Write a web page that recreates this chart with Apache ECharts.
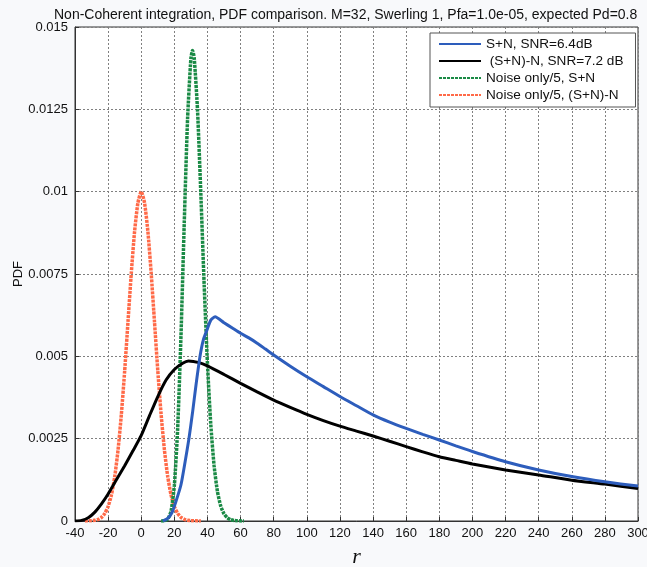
<!DOCTYPE html>
<html>
<head>
<meta charset="utf-8">
<script src="https://cdn.jsdelivr.net/npm/echarts@6/dist/echarts.min.js"></script>
<style>
html,body{margin:0;padding:0;background:#f8f9fb;}
#c{width:647px;height:567px;}
</style>
</head>
<body>
<div id="c"></div>
<script>
const titleText = 'Non-Coherent integration, PDF comparison. M=32, Swerling 1, Pfa=1.0e-05, expected Pd=0.8';
const seriesNames = ['S+N, SNR=6.4dB', ' (S+N)-N, SNR=7.2 dB', 'Noise only/5, S+N', 'Noise only/5, (S+N)-N'];
const xTicks = [-40, 300, 20];
const yTicks = [0, 0.015, 0.0025];

const blueX = [13, 16, 18.5, 21, 24, 26.5, 28.8, 31, 33, 35.5, 37.5, 39.7, 42, 44.6, 50, 55, 60, 65, 70, 75, 80, 90, 100, 110, 120, 130, 140, 150, 160, 170, 180, 190, 200, 220, 240, 260, 280, 300];
const blueY = [0, 0.00008, 0.00025, 0.0006, 0.0011, 0.0018, 0.0025, 0.0033, 0.0041, 0.005, 0.0055, 0.0058, 0.0061, 0.0062, 0.00602, 0.00586, 0.0057, 0.00556, 0.0054, 0.00522, 0.00504, 0.0047, 0.00438, 0.00408, 0.00378, 0.0035, 0.00322, 0.003, 0.00281, 0.00263, 0.00246, 0.00228, 0.00211, 0.0018, 0.00155, 0.00135, 0.00119, 0.00106];

const blackX = [-40, -36, -32, -28, -24, -20, -15, -10, -5, 0, 5, 10, 15, 20, 25, 28.5, 35, 40, 50, 60, 70, 80, 90, 100, 110, 120, 130, 140, 150, 160, 170, 180, 190, 200, 220, 240, 260, 280, 300];
const blackY = [0, 0.00002, 0.0001, 0.00027, 0.00052, 0.00082, 0.00125, 0.00168, 0.00213, 0.0026, 0.0032, 0.00378, 0.00428, 0.0046, 0.00479, 0.00486, 0.00481, 0.00471, 0.00445, 0.00418, 0.00392, 0.00367, 0.00345, 0.00324, 0.00305, 0.00288, 0.00273, 0.00258, 0.00242, 0.00226, 0.0021, 0.00195, 0.00184, 0.00173, 0.00155, 0.0014, 0.00124, 0.00112, 0.00099];

const greenX = [12, 14, 16, 18, 20, 22, 24, 26, 28, 30, 31, 32, 34, 36, 38, 40, 42, 44, 46, 48, 50, 52, 54, 56, 58, 62];
const greenY = [0, 0.000007, 0.000058, 0.0003, 0.00108, 0.0028, 0.00562, 0.00909, 0.01223, 0.01405, 0.01429, 0.01406, 0.01247, 0.00993, 0.00718, 0.00477, 0.00293, 0.00168, 0.0009, 0.000455, 0.000218, 0.0001, 0.00004, 0.000017, 0.000007, 0];

const orangeX = [-34, -30, -28, -26, -24, -22, -20, -18, -16, -14, -12, -10, -8, -6, -4, -2, 0, 2, 4, 6, 8, 10, 12, 14, 16, 18, 20, 22, 24, 26, 28, 30, 36];
const orangeY = [0, 0.00001, 0.00002, 0.00005, 0.00011, 0.00023, 0.00044, 0.00079, 0.00135, 0.00216, 0.00324, 0.00456, 0.00605, 0.00753, 0.0088, 0.00966, 0.01, 0.00966, 0.0088, 0.00753, 0.00605, 0.00456, 0.00324, 0.00216, 0.00135, 0.00079, 0.00044, 0.00023, 0.00011, 0.00005, 0.00002, 0.00001, 0];

const zip = (xs, ys) => xs.map((x, i) => [x, ys[i]]);
const font = '"Liberation Sans", Arial, sans-serif';

const chart = echarts.init(document.getElementById('c'), null, {renderer: 'canvas'});
const lineSeries = (name, xs, ys, color, width, type, z) => ({
  name: name, type: 'line', data: zip(xs, ys), symbol: 'none', showSymbol: false,
  smooth: 0.2, z: z,
  lineStyle: {color: color, width: width, type: type},
  itemStyle: {color: color}
});

chart.setOption({
  backgroundColor: '#f8f9fb',
  animation: false,
  title: {
    text: titleText, left: 49, top: 3,
    textStyle: {fontFamily: font, fontSize: 14, fontWeight: 'normal', color: '#111'}
  },
  grid: {left: 75, right: 9, top: 27, bottom: 46, show: true, backgroundColor: '#ffffff', borderColor: '#333', borderWidth: 1, containLabel: false, outerBoundsMode: 'none'},
  legend: {
    orient: 'vertical', left: 430, top: 33,
    backgroundColor: '#ffffff', borderColor: '#555', borderWidth: 1,
    padding: [4, 12, 5, 8], itemWidth: 42, itemHeight: 14, itemGap: 3,
    itemStyle: {opacity: 0, borderWidth: 0},
    textStyle: {fontFamily: font, fontSize: 13.6, color: '#111'},
    data: seriesNames
  },
  xAxis: {
    type: 'value', min: xTicks[0], max: xTicks[1], interval: xTicks[2],
    name: 'r', nameLocation: 'middle', nameGap: 25, nameMoveOverlap: false,
    nameTextStyle: {fontFamily: '"Liberation Serif", "Times New Roman", serif', fontStyle: 'italic', fontSize: 22, color: '#111'},
    axisLine: {show: true, onZero: false, lineStyle: {color: '#333', width: 1}},
    axisTick: {show: true, inside: true, length: 4, lineStyle: {color: '#333'}},
    axisLabel: {fontFamily: font, fontSize: 13, color: '#111', margin: 6},
    splitLine: {show: true, lineStyle: {color: '#808080', width: 1, type: [2, 2]}}
  },
  yAxis: {
    type: 'value', min: yTicks[0], max: yTicks[1], interval: yTicks[2],
    name: 'PDF', nameLocation: 'middle', nameGap: 50, nameMoveOverlap: false,
    nameTextStyle: {fontFamily: font, fontSize: 13, color: '#111'},
    axisLine: {show: true, onZero: false, lineStyle: {color: '#333', width: 1}},
    axisTick: {show: true, inside: true, length: 4, lineStyle: {color: '#333'}},
    axisLabel: {fontFamily: font, fontSize: 13, color: '#111', margin: 7,
      formatter: v => String(Number(v.toFixed(5)))},
    splitLine: {show: true, lineStyle: {color: '#808080', width: 1, type: [2, 2]}}
  },
  series: [
    lineSeries(seriesNames[0], blueX, blueY, '#2d5dbc', 3, 'solid', 4),
    lineSeries(seriesNames[1], blackX, blackY, '#000000', 3, 'solid', 3),
    lineSeries(seriesNames[2], greenX, greenY, '#1a8a45', 3.5, [3, 1], 2),
    lineSeries(seriesNames[3], orangeX, orangeY, '#ff6a48', 3.5, [3, 1], 1)
  ]
});
</script>
</body>
</html>
